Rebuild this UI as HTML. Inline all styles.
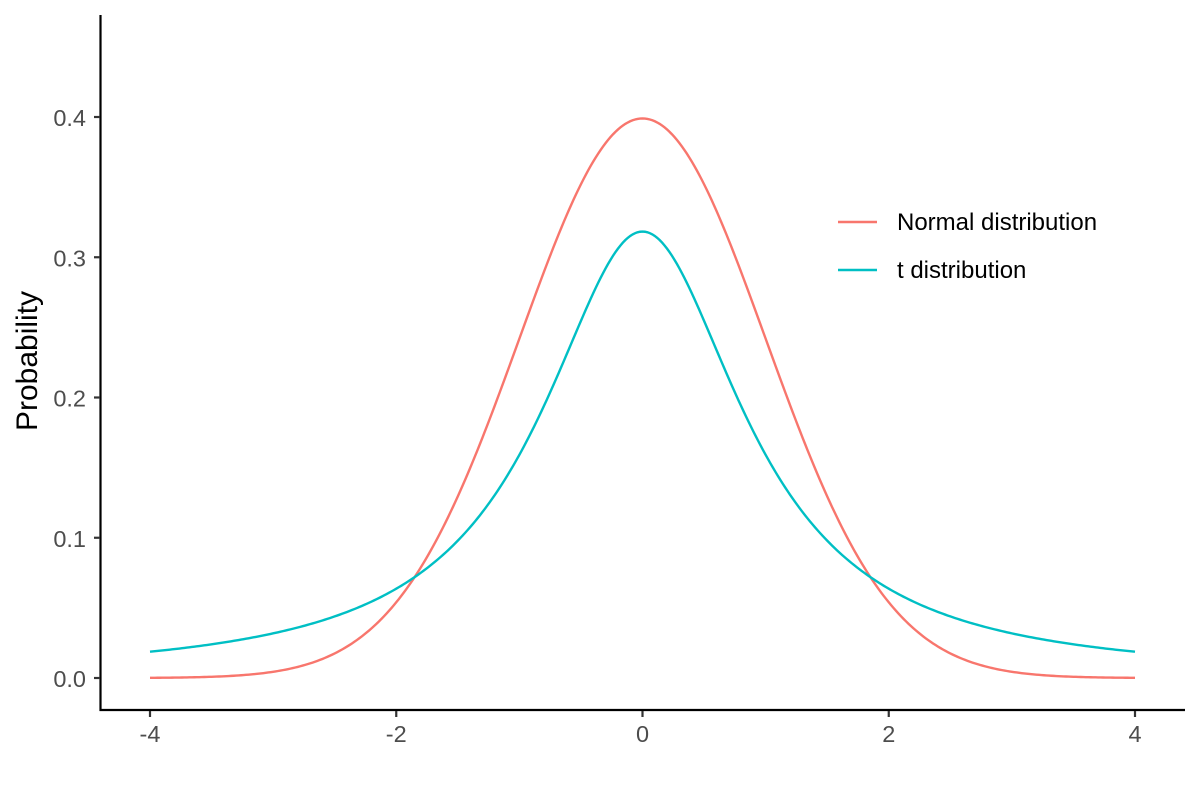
<!DOCTYPE html>
<html><head><meta charset="utf-8"><style>
body{margin:0;background:#fff}
svg{display:block;font-family:"Liberation Sans",Arial,sans-serif}
</style></head><body>
<svg id="s" width="1200" height="800" viewBox="0 0 1200 800">
<rect width="1200" height="800" fill="#fff"/>
<g stroke="#000" stroke-width="2.2" fill="none">
<line x1="100.5" y1="15" x2="100.5" y2="711"/>
<line x1="99.5" y1="710" x2="1185" y2="710"/>
</g>
<g stroke="#333" stroke-width="2.2" id="ticks"></g>
<g fill="#4d4d4d" font-size="23.5" id="labels"></g>
<text x="37" y="361" font-size="30" fill="#000" text-anchor="middle" transform="rotate(-90 37 361)">Probability</text>
<path id="pn" fill="none" stroke="#F8766D" stroke-width="2.4"/>
<path id="pt" fill="none" stroke="#00BFC4" stroke-width="2.4"/>
<line x1="838" y1="222" x2="877" y2="222" stroke="#F8766D" stroke-width="2.4"/>
<line x1="838" y1="270" x2="877" y2="270" stroke="#00BFC4" stroke-width="2.4"/>
<text x="897" y="230" font-size="24" fill="#000">Normal distribution</text>
<text x="897" y="278" font-size="24" fill="#000">t distribution</text>
</svg>
<script>
var X=function(x){return 642.5+x*123.125},Y=function(y){return 678-y*1402.5};
var t=document.getElementById('ticks'),l=document.getElementById('labels'),ns='http://www.w3.org/2000/svg';
function el(p,n,a,txt){var e=document.createElementNS(ns,n);for(var k in a)e.setAttribute(k,a[k]);if(txt)e.textContent=txt;p.appendChild(e);}
[-4,-2,0,2,4].forEach(function(v){var x=X(v);el(t,'line',{x1:x,y1:711,x2:x,y2:717});el(l,'text',{x:x,y:742,'text-anchor':'middle'},String(v));});
[0,0.1,0.2,0.3,0.4].forEach(function(v){var y=Y(v);el(t,'line',{x1:94,y1:y,x2:100,y2:y});el(l,'text',{x:86,y:y+9,'text-anchor':'end'},v.toFixed(1));});
var a='',b='';for(var i=0;i<=400;i++){var x=-4+i*0.02;var n=Math.exp(-x*x/2)/Math.sqrt(2*Math.PI);var c=1/(Math.PI*(1+x*x));
a+=(i?'L':'M')+X(x).toFixed(2)+','+Y(n).toFixed(2);b+=(i?'L':'M')+X(x).toFixed(2)+','+Y(c).toFixed(2);}
document.getElementById('pn').setAttribute('d',a);document.getElementById('pt').setAttribute('d',b);
</script>
</body></html>
